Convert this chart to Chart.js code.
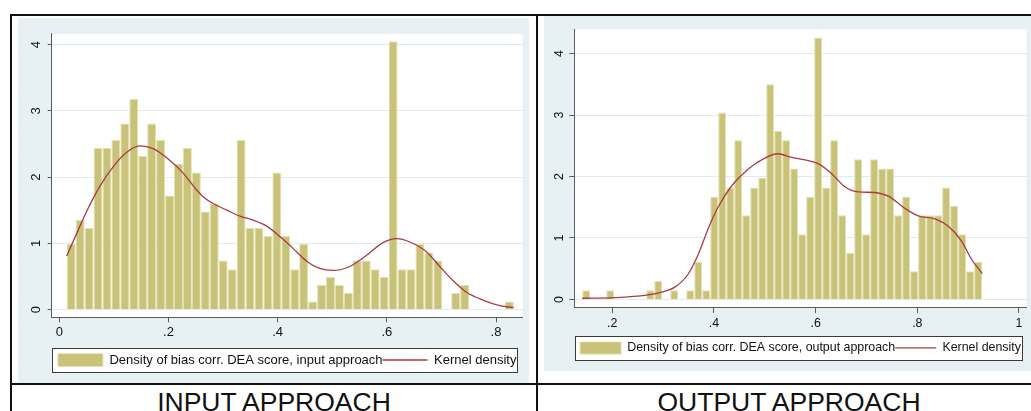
<!DOCTYPE html>
<html>
<head>
<meta charset="utf-8">
<script src="https://cdn.jsdelivr.net/npm/chart.js@4.4.1/dist/chart.umd.min.js"></script>
<style>
  html, body { margin: 0; padding: 0; background: #fff; width: 1031px; height: 411px; overflow: hidden; position: relative; font-family: 'Liberation Sans', Arial, sans-serif; }
  .rule { position: absolute; background: #111; }
  canvas { position: absolute; display: block; background: #e7f0f2; }
  .caption { position: absolute; font-size: 26.5px; line-height: 26.5px; color: #111; text-align: center; white-space: nowrap; }
</style>
</head>
<body>
<div class="rule" style="left:10px; top:14px; width:1021px; height:2px"></div>
<div class="rule" style="left:10px; top:14px; width:2px; height:397px"></div>
<div class="rule" style="left:536px; top:14px; width:2px; height:397px"></div>
<div class="rule" style="left:10px; top:383px; width:1021px; height:2px"></div>

<canvas id="inputChart" width="511" height="365" style="left:18px; top:18px"></canvas>
<canvas id="outputChart" width="487" height="355" style="left:544px; top:16px"></canvas>

<div class="caption" style="left:12px; width:524px; top:389px">INPUT APPROACH</div>
<div class="caption" style="left:538px; width:502px; top:389px">OUTPUT APPROACH</div>

<script>
// ---- Input approach: bias-corrected DEA scores ----
const inputBinStart = 0.0136;
const inputBinWidth = 0.01638;
const inputDensity = [
  0.99, 1.35, 1.23, 2.44, 2.44, 2.56, 2.81, 3.18, 2.32, 2.81,
  2.56, 1.72, 2.20, 2.44, 2.07, 1.48, 1.60, 0.74, 0.61, 2.56,
  1.23, 1.23, 1.11, 2.07, 1.11, 0.61, 0.99, 0.12, 0.37, 0.49,
  0.37, 0.25, 0.74, 0.74, 0.61, 0.49, 4.05, 0.61, 0.61, 0.99,
  0.86, 0.74, 0.00, 0.25, 0.37, 0.00, 0.00, 0.00, 0.00, 0.12
];
const inputKernelX = [0.0136, 0.032, 0.05, 0.075, 0.1, 0.123, 0.147, 0.172, 0.2, 0.227,
  0.25, 0.264, 0.282, 0.307, 0.331, 0.355, 0.38, 0.41, 0.435, 0.453, 0.477, 0.502,
  0.532, 0.563, 0.593, 0.618, 0.642, 0.673, 0.697, 0.722, 0.746, 0.777, 0.807, 0.832];
const inputKernelY = [0.81, 1.15, 1.48, 1.87, 2.17, 2.37, 2.47, 2.43, 2.27, 2.06,
  1.82, 1.70, 1.60, 1.50, 1.41, 1.35, 1.26, 1.06, 0.87, 0.73, 0.62, 0.59,
  0.65, 0.82, 1.01, 1.07, 1.02, 0.87, 0.65, 0.43, 0.26, 0.14, 0.06, 0.03];
const inputXTicks = [0, 0.2, 0.4, 0.6, 0.8];
const inputXTickLabels = ['0', '.2', '.4', '.6', '.8'];
const inputLegend = ['Density of bias corr. DEA score, input approach', 'Kernel density'];

// ---- Output approach: bias-corrected DEA scores ----
const outputBinStart = 0.141;
const outputBinWidth = 0.01573;
const outputDensity = [
  0.15, 0.00, 0.00, 0.15, 0.00, 0.00, 0.00, 0.00, 0.15, 0.30,
  0.00, 0.15, 0.00, 0.15, 0.61, 0.15, 1.67, 3.04, 1.82, 2.59,
  1.37, 1.82, 1.98, 3.50, 2.74, 2.59, 2.13, 1.06, 1.67, 4.26,
  1.82, 2.59, 1.37, 0.76, 2.28, 1.06, 2.28, 2.13, 2.13, 1.37,
  1.67, 0.46, 1.37, 1.37, 1.37, 1.82, 1.52, 1.06, 0.46, 0.61
];
const outputKernelX = [0.141, 0.205, 0.267, 0.297, 0.323, 0.349, 0.369, 0.389, 0.408, 0.435,
  0.467, 0.5, 0.526, 0.553, 0.579, 0.605, 0.631, 0.658, 0.684, 0.717, 0.743,
  0.776, 0.802, 0.835, 0.861, 0.887, 0.907, 0.928];
const outputKernelY = [0.02, 0.03, 0.07, 0.12, 0.20, 0.41, 0.73, 1.16, 1.50, 1.85,
  2.12, 2.30, 2.37, 2.31, 2.27, 2.21, 2.05, 1.83, 1.75, 1.74, 1.68,
  1.48, 1.36, 1.31, 1.19, 0.95, 0.65, 0.42];
const outputXTicks = [0.2, 0.4, 0.6, 0.8, 1];
const outputXTickLabels = ['.2', '.4', '.6', '.8', '1'];
const outputLegend = ['Density of bias corr. DEA score, output approach', 'Kernel density'];

// Shared density axis
const densityTicks = [0, 1, 2, 3, 4];
const densityTickLabels = ['0', '1', '2', '3', '4'];

// ---- Styling ----
const FONT = "'Liberation Sans', Arial, Helvetica, sans-serif";
const BAR_FILL = '#c9c379';
const BAR_EDGE = '#e4e0b0';
const KDE_LINE = '#a93a44';
const AXIS = '#5c5c5c';
const GRID = '#e1ebef';
const TEXT = '#111111';

Chart.defaults.font.family = FONT;

// White plot region and the framed legend box, painted under everything else
const panelBackdrop = {
  id: 'panelBackdrop',
  beforeDraw(chart, args, opts) {
    const { ctx, chartArea: a, legend } = chart;
    ctx.save();
    ctx.fillStyle = '#ffffff';
    ctx.fillRect(a.left, a.top, a.right - a.left, a.bottom - a.top);
    const hb = legend && legend.legendHitBoxes;
    if (hb && hb.length) {
      const first = hb[0];
      const last = hb[hb.length - 1];
      const cy = first.top + first.height / 2;
      const x0 = Math.round(first.left - opts.padLeft) + 0.5;
      const x1 = Math.round(last.left + last.width + opts.padRight) + 0.5;
      const y0 = Math.round(cy - opts.frameHeight / 2) + 0.5;
      const y1 = Math.round(cy + opts.frameHeight / 2) + 0.5;
      ctx.fillStyle = '#ffffff';
      ctx.fillRect(x0, y0, x1 - x0, y1 - y0);
      ctx.strokeStyle = '#3a3a3a';
      ctx.lineWidth = 1;
      ctx.strokeRect(x0, y0, x1 - x0, y1 - y0);
    }
    ctx.restore();
  }
};

function binCentres(start, width, n) {
  const out = [];
  for (let i = 0; i < n; i++) out.push(start + width * (i + 0.5));
  return out;
}

function drawPanel(canvasId, p) {
  const centres = binCentres(p.binStart, p.binWidth, p.density.length);
  const font = { family: FONT, size: p.fontSize };
  return new Chart(document.getElementById(canvasId), {
    type: 'bar',
    data: {
      datasets: [
        {
          type: 'bar',
          label: p.legend[0],
          data: centres.map((x, i) => ({ x: x, y: p.density[i] })),
          backgroundColor: BAR_FILL,
          borderColor: BAR_EDGE,
          borderWidth: 1,
          borderSkipped: 'start',
          inflateAmount: 0,
          barPercentage: 1,
          categoryPercentage: 1,
          pointStyle: 'rect',
          order: 2
        },
        {
          type: 'line',
          label: p.legend[1],
          data: p.kernelX.map((x, i) => ({ x: x, y: p.kernelY[i] })),
          borderColor: KDE_LINE,
          backgroundColor: KDE_LINE,
          borderWidth: 1.3,
          pointRadius: 0,
          pointStyle: 'line',
          cubicInterpolationMode: 'monotone',
          fill: false,
          order: 1
        }
      ]
    },
    options: {
      responsive: false,
      animation: false,
      devicePixelRatio: 1,
      events: [],
      layout: { padding: p.padding },
      scales: {
        x: {
          type: 'linear',
          min: p.xMin,
          max: p.xMax,
          bounds: 'data',
          offset: false,
          afterBuildTicks: s => { s.ticks = p.xTicks.map(v => ({ value: v })); },
          afterFit: s => { s.height = p.xAxisHeight; },
          ticks: {
            callback: (v, i) => p.xTickLabels[i],
            autoSkip: false,
            maxRotation: 0,
            minRotation: 0,
            padding: p.xLabelPad,
            color: TEXT,
            font: font
          },
          grid: {
            display: true,
            offset: false,
            drawOnChartArea: false,
            drawTicks: true,
            tickLength: 5,
            tickColor: AXIS,
            tickWidth: 1
          },
          border: { display: true, color: AXIS, width: 1 }
        },
        y: {
          type: 'linear',
          min: p.yMin,
          max: p.yMax,
          bounds: 'data',
          afterBuildTicks: s => { s.ticks = densityTicks.map(v => ({ value: v })); },
          afterFit: s => { s.width = p.yAxisWidth; },
          ticks: {
            callback: (v, i) => densityTickLabels[i],
            autoSkip: false,
            minRotation: 90,
            maxRotation: 90,
            crossAlign: 'center',
            padding: p.yLabelPad,
            color: TEXT,
            font: font
          },
          grid: {
            color: GRID,
            lineWidth: 1,
            drawTicks: true,
            tickLength: p.yTickLength,
            tickColor: AXIS,
            tickWidth: 1
          },
          border: { display: true, color: AXIS, width: 1 }
        }
      },
      plugins: {
        legend: {
          display: true,
          position: 'bottom',
          align: 'center',
          fullSize: false,
          labels: {
            usePointStyle: true,
            pointStyleWidth: p.swatch,
            boxWidth: p.swatch,
            boxHeight: p.fontSize,
            padding: 0,
            color: TEXT,
            font: font,
            // histogram entry first, then the density curve
            sort: (a, b) => a.datasetIndex - b.datasetIndex
          }
        },
        tooltip: { enabled: false },
        panelBackdrop: { frameHeight: p.frameHeight, padLeft: p.framePadLeft, padRight: 1 }
      }
    },
    plugins: [panelBackdrop]
  });
}

drawPanel('inputChart', {
  binStart: inputBinStart, binWidth: inputBinWidth, density: inputDensity,
  kernelX: inputKernelX, kernelY: inputKernelY,
  xTicks: inputXTicks, xTickLabels: inputXTickLabels, legend: inputLegend,
  xMin: -0.0139, xMax: 0.8489, yMin: -0.117, yMax: 4.161,
  padding: { left: 0, top: 7, right: 6.3, bottom: 6.5 },
  yAxisWidth: 33.7, xAxisHeight: 36.2, yTickLength: 4,
  yLabelPad: 8.1, xLabelPad: 2.7, fontSize: 13,
  swatch: 45, frameHeight: 24.6, framePadLeft: 6
});

drawPanel('outputChart', {
  binStart: outputBinStart, binWidth: outputBinWidth, density: outputDensity,
  kernelX: outputKernelX, kernelY: outputKernelY,
  xTicks: outputXTicks, xTickLabels: outputXTickLabels, legend: outputLegend,
  xMin: 0.1253, xMax: 1.0152, yMin: -0.139, yMax: 4.394,
  padding: { left: 0, top: 8, right: 4.3, bottom: 6.9 },
  yAxisWidth: 30.3, xAxisHeight: 33.7, yTickLength: 5,
  yLabelPad: 5.9, xLabelPad: 3.3, fontSize: 12.4,
  swatch: 41, frameHeight: 23.3, framePadLeft: 5.5
});
</script>
</body>
</html>
